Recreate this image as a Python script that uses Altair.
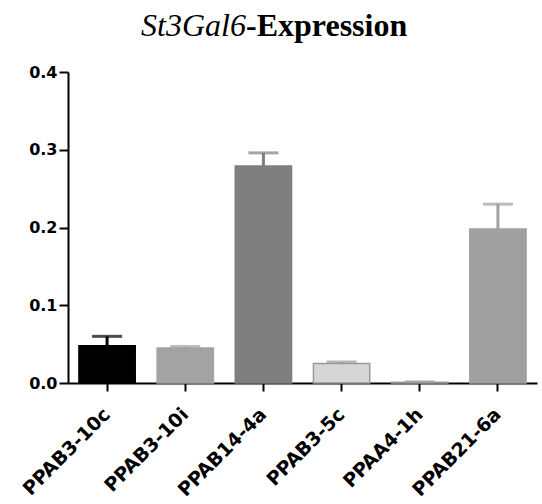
import altair as alt
import pandas as pd

samples = ["PPAB3-10c", "PPAB3-10i", "PPAB14-4a", "PPAB3-5c", "PPAA4-1h", "PPAB21-6a"]
means = [0.048, 0.045, 0.279, 0.025, 0.001, 0.198]
errors = [0.012, 0.002, 0.017, 0.002, 0.0005, 0.032]
fills = ["#000000", "#a3a3a3", "#7f7f7f", "#d6d6d6", "#c8c8c8", "#a0a0a0"]
strokes = ["#000000", "#a3a3a3", "#7f7f7f", "#9a9a9a", "#9a9a9a", "#a0a0a0"]
title_italic = "St3Gal6"
title_bold = "-Expression"
y_ticks = [0.0, 0.1, 0.2, 0.3, 0.4]

df = pd.DataFrame({
    "sample": samples,
    "mean": means,
    "err": errors,
    "fill": fills,
    "stroke": strokes,
})
df["top"] = df["mean"] + df["err"]

xenc = alt.X(
    "sample:N",
    sort=samples,
    title=None,
    scale=alt.Scale(paddingInner=0.28, paddingOuter=0.14),
    axis=alt.Axis(
        labelAngle=-45,
        labelAlign="right",
        labelBaseline="middle",
        labelFont="DejaVu Sans",
        labelFontWeight="bold",
        labelFontSize=19,
        labelColor="#000000",
        labelPadding=20,
        labelOverlap=False,
        labelLimit=300,
        tickSize=8,
        tickWidth=2,
        tickColor="#000000",
        domainColor="#000000",
        domainWidth=2,
        grid=False,
    ),
)

yscale = alt.Scale(domain=[0, 0.4], nice=False)

bars = alt.Chart(df).mark_bar(strokeWidth=1.5).encode(
    x=xenc,
    y=alt.Y(
        "mean:Q",
        scale=yscale,
        title=None,
        axis=alt.Axis(
            values=y_ticks,
            format=".1f",
            labelFont="DejaVu Sans",
            labelFontWeight="bold",
            labelFontSize=16,
            labelColor="#000000",
            labelPadding=2,
            tickSize=9,
            tickWidth=2,
            tickColor="#000000",
            domainColor="#000000",
            domainWidth=2,
            grid=False,
        ),
    ),
    fill=alt.Fill("fill:N", scale=None),
    stroke=alt.Stroke("stroke:N", scale=None),
)

stems = alt.Chart(df).mark_rule(strokeWidth=3).encode(
    x=alt.X("sample:N", sort=samples),
    y=alt.Y("mean:Q", scale=yscale),
    y2="top:Q",
    color=alt.Color("stroke:N", scale=None),
)

caps = alt.Chart(df).mark_tick(size=30, thickness=3).encode(
    x=alt.X("sample:N", sort=samples),
    y=alt.Y("top:Q", scale=yscale),
    color=alt.Color("stroke:N", scale=None),
)

t1 = alt.Chart(pd.DataFrame({"t": [title_italic]})).mark_text(
    font="Liberation Serif", fontStyle="italic", fontSize=32, align="right", baseline="alphabetic", color="#000000"
).encode(text="t:N", x=alt.value(178), y=alt.value(-36))

t2 = alt.Chart(pd.DataFrame({"t": [title_bold]})).mark_text(
    font="Liberation Serif", fontWeight="bold", fontSize=32, align="left", baseline="alphabetic", color="#000000"
).encode(text="t:N", x=alt.value(178), y=alt.value(-36))

chart = alt.layer(bars, stems, caps, t1, t2).properties(
    width=469,
    height=311,
    autosize="none",
    padding={"left": 68, "top": 72, "right": 5, "bottom": 121},
    background="#ffffff",
).configure_view(stroke=None)

chart.save("out.html", embed_options={"renderer": "svg", "actions": False})
